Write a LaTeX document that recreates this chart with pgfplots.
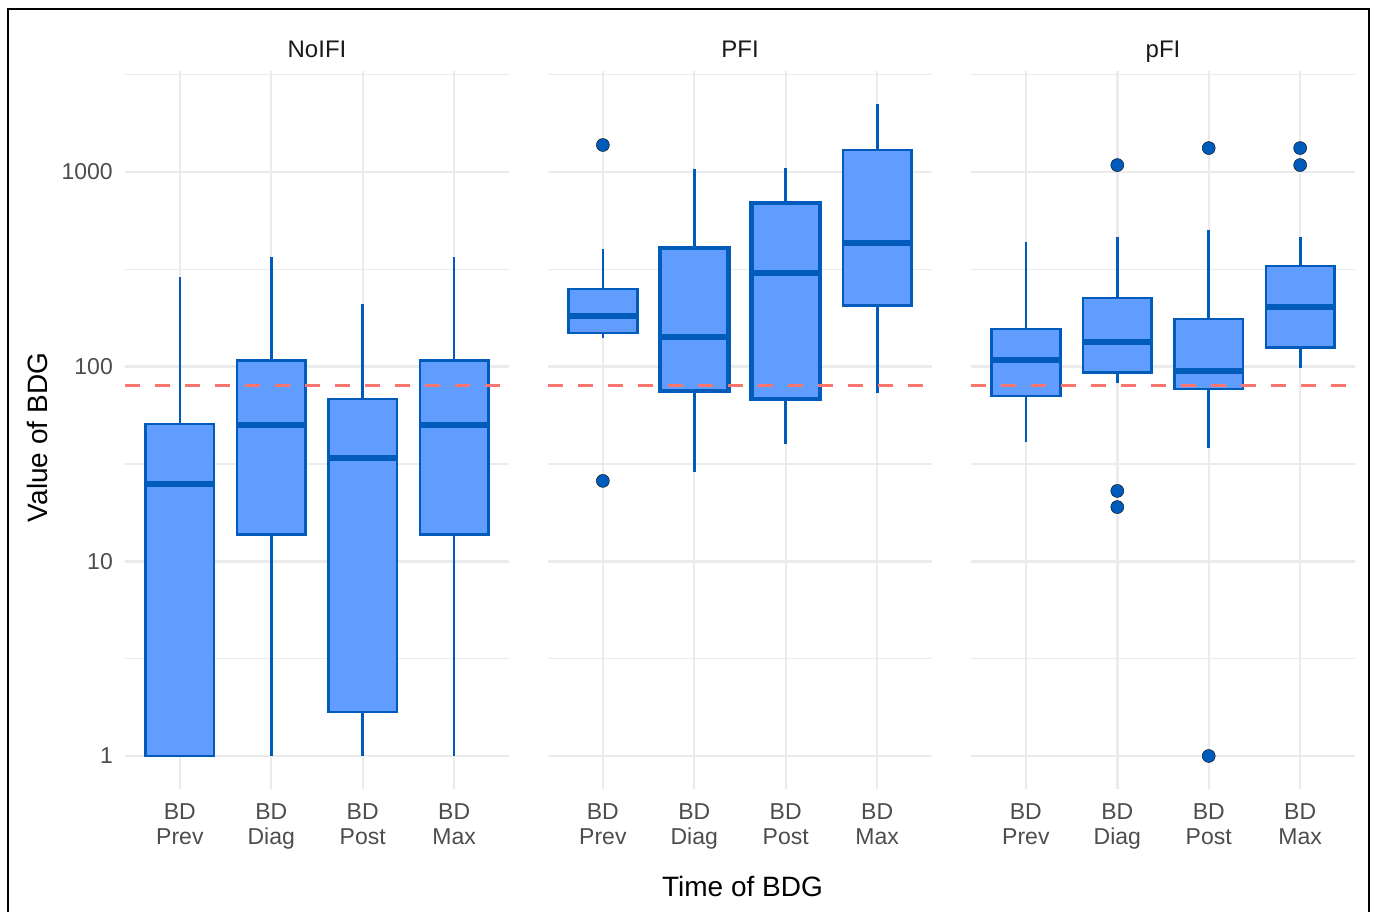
\documentclass[border=0pt]{standalone}
\usepackage{fontspec}
\setmainfont{Liberation Sans}
\usepackage{pgfplots}
\pgfplotsset{compat=1.18}
\definecolor{boxfill}{HTML}{619CFF}
\definecolor{boxline}{HTML}{005BBB}
\definecolor{gridc}{HTML}{EBEBEB}
\definecolor{refred}{HTML}{F8766D}
\definecolor{tickc}{HTML}{4D4D4D}
\definecolor{stripc}{HTML}{1A1A1A}
\tikzset{
 whisk/.style={boxline, line width=2.7pt, line cap=butt},
 boxst/.style={draw=boxline, fill=boxfill, line width=2.7pt, line join=miter},
 boxthick/.style={draw=boxline, fill=boxfill, line width=4.2pt, line join=miter},
 medst/.style={boxline, line width=5.4pt, line cap=butt},
 refl/.style={refred, line width=2.8pt, dash pattern=on 15pt off 15pt},
}
% #1 box style, #2 left, #3 centre, #4 right, #5 lower whisker, #6 Q1, #7 median, #8 Q3, #9 upper whisker
\newcommand{\bbox}[9]{%
 \addplot[whisk, forget plot] coordinates {(#3,#5) (#3,#6)};
 \addplot[whisk, forget plot] coordinates {(#3,#8) (#3,#9)};
 \addplot[#1, forget plot] coordinates {(#2,#6) (#4,#6) (#4,#8) (#2,#8)} -- cycle;
 \addplot[medst, forget plot] coordinates {(#2,#7) (#4,#7)};
}
\begin{document}
\begin{tikzpicture}
\useasboundingbox (0,0) rectangle (1375pt,912pt);
% ---------------- NoIFI
\begin{axis}[scale only axis, width=384pt, height=717.1pt,
   xmin=0.4, xmax=4.6, ymode=log, ymin=0.680, ymax=3285,
   axis line style={draw=none}, major tick length=0pt, minor tick length=0pt,
   xtick={1,2,3,4}, xticklabels={{BD\\Prev},{BD\\Diag},{BD\\Post},{BD\\Max}},
   ytick={1,10,100,1000}, minor ytick={3.1623,31.623,316.23,3162.3},
   yticklabels={1,10,100,1000},
   xmajorgrids, ymajorgrids, yminorgrids,
   major grid style={gridc, line width=2.4pt},
   minor grid style={gridc, line width=1.2pt},
   tick label style={font=\fontsize{23}{25}\selectfont, text=tickc},
   xticklabel style={align=center, anchor=north, inner sep=0pt, yshift=-15pt},
   yticklabel style={anchor=east, inner sep=0pt, xshift=-12pt},
   title style={font=\fontsize{24}{28}\selectfont, text=stripc, anchor=base, yshift=8pt},
   clip=false, at={(125pt,123.4pt)}, anchor=south west, title={NoIFI}]
\bbox{boxst}{0.625}{1}{1.375}{1}{1}{25}{50.8}{289}
\bbox{boxst}{1.625}{2}{2.375}{1}{13.7}{50.2}{108}{366}
\bbox{boxst}{2.625}{3}{3.375}{1}{1.68}{34}{68.2}{210}
\bbox{boxst}{3.625}{4}{4.375}{1}{13.7}{50.2}{108}{366}
\addplot[refl, forget plot] coordinates {(0.4,80) (4.6,80)};
\end{axis}
% ---------------- PFI
\begin{axis}[scale only axis, width=384pt, height=717.1pt,
   xmin=0.4, xmax=4.6, ymode=log, ymin=0.680, ymax=3285,
   axis line style={draw=none}, major tick length=0pt, minor tick length=0pt,
   xtick={1,2,3,4}, xticklabels={{BD\\Prev},{BD\\Diag},{BD\\Post},{BD\\Max}},
   ytick={1,10,100,1000}, minor ytick={3.1623,31.623,316.23,3162.3},
   yticklabels={},
   xmajorgrids, ymajorgrids, yminorgrids,
   major grid style={gridc, line width=2.4pt},
   minor grid style={gridc, line width=1.2pt},
   tick label style={font=\fontsize{23}{25}\selectfont, text=tickc},
   xticklabel style={align=center, anchor=north, inner sep=0pt, yshift=-15pt},
   title style={font=\fontsize{24}{28}\selectfont, text=stripc, anchor=base, yshift=8pt},
   clip=false, at={(548pt,123.4pt)}, anchor=south west, title={PFI}]
\bbox{boxst}{0.625}{1}{1.375}{140}{149}{182}{251}{402}
\bbox{boxthick}{1.625}{2}{2.375}{28.8}{75}{142}{407}{1036}
\bbox{boxthick}{2.625}{3}{3.375}{40.1}{68.2}{303}{693}{1048}
\bbox{boxst}{3.625}{4}{4.375}{73.2}{207}{432}{1297}{2234}
\addplot[only marks, mark=*, mark size=6.5pt, mark options={fill=boxline, draw=none}, forget plot] coordinates {(1,1377) (1,25.9)};
\addplot[refl, forget plot] coordinates {(0.4,80) (4.6,80)};
\end{axis}
% ---------------- pFI
\begin{axis}[scale only axis, width=384pt, height=717.1pt,
   xmin=0.4, xmax=4.6, ymode=log, ymin=0.680, ymax=3285,
   axis line style={draw=none}, major tick length=0pt, minor tick length=0pt,
   xtick={1,2,3,4}, xticklabels={{BD\\Prev},{BD\\Diag},{BD\\Post},{BD\\Max}},
   ytick={1,10,100,1000}, minor ytick={3.1623,31.623,316.23,3162.3},
   yticklabels={},
   xmajorgrids, ymajorgrids, yminorgrids,
   major grid style={gridc, line width=2.4pt},
   minor grid style={gridc, line width=1.2pt},
   tick label style={font=\fontsize{23}{25}\selectfont, text=tickc},
   xticklabel style={align=center, anchor=north, inner sep=0pt, yshift=-15pt},
   title style={font=\fontsize{24}{28}\selectfont, text=stripc, anchor=base, yshift=8pt},
   clip=false, at={(971pt,123.4pt)}, anchor=south west, title={pFI}]
\bbox{boxst}{0.625}{1}{1.375}{41}{70.7}{108}{156}{437}
\bbox{boxst}{1.625}{2}{2.375}{82.4}{93}{134}{225}{464}
\bbox{boxst}{2.625}{3}{3.375}{38.2}{76.8}{95}{176}{504}
\bbox{boxst}{3.625}{4}{4.375}{98}{125}{203}{329}{464}
\addplot[only marks, mark=*, mark size=6.5pt, mark options={fill=boxline, draw=none}, forget plot] coordinates {(2,1086) (2,23) (2,19) (3,1328) (3,1) (4,1328) (4,1086)};
\addplot[refl, forget plot] coordinates {(0.4,80) (4.6,80)};
\end{axis}
% axis titles
\node[font=\fontsize{28}{32}\selectfont, anchor=base] at (742.5pt,15pt) {Time of BDG};
\node[font=\fontsize{28}{32}\selectfont, anchor=base, rotate=90] at (47pt,474.5pt) {Value of BDG};
% outer frame
\draw[black, line width=2pt] (8pt,0pt) -- (8pt,903pt) -- (1369pt,903pt) -- (1369pt,0pt);
\end{tikzpicture}
\end{document}
